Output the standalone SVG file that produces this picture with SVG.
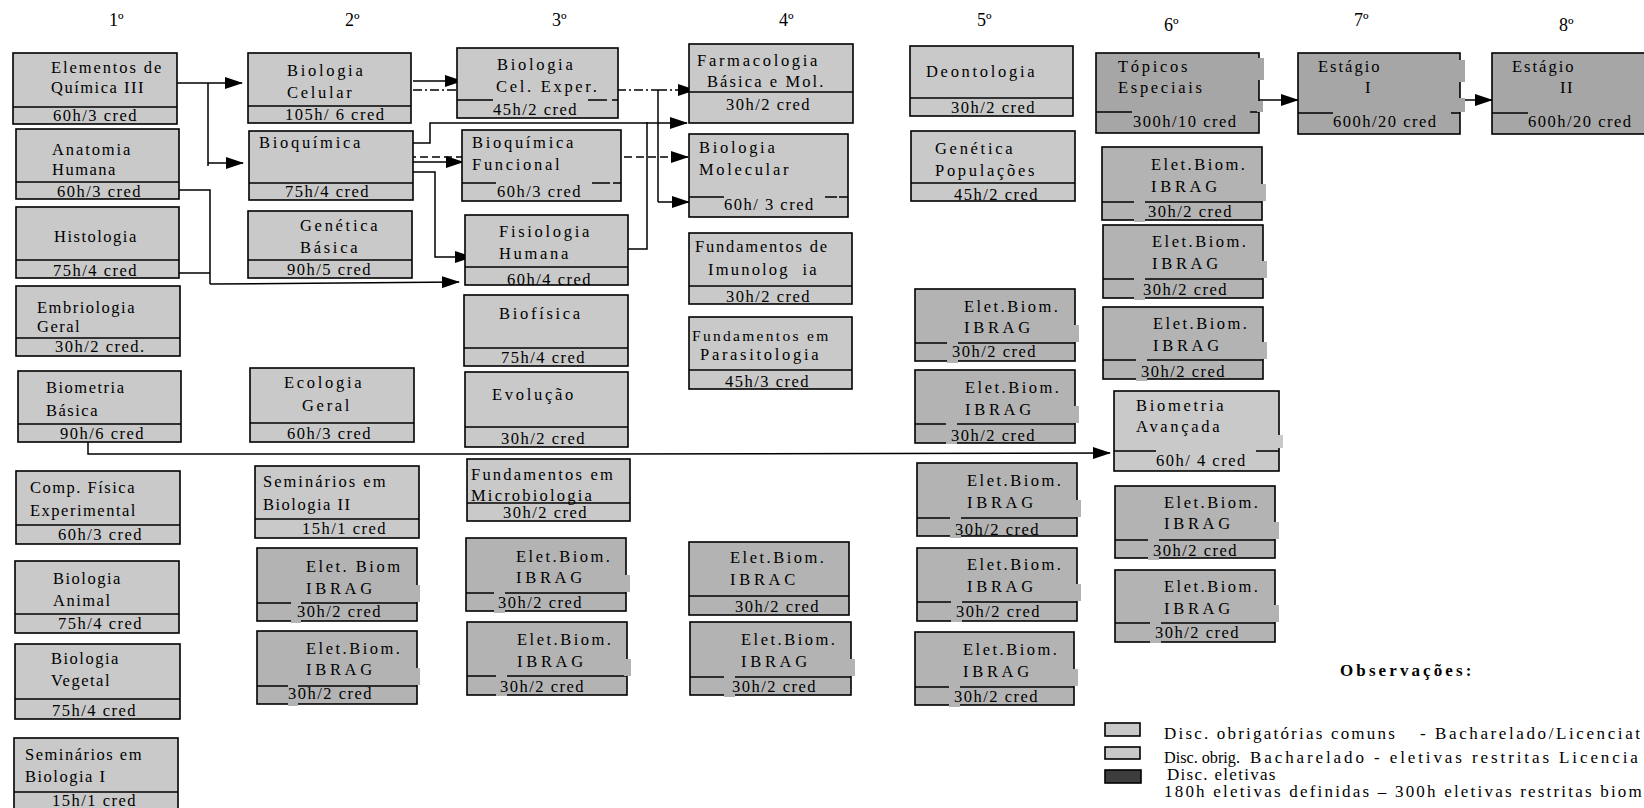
<svg xmlns="http://www.w3.org/2000/svg" width="1644" height="808" viewBox="0 0 1644 808">
<defs>
<marker id="ah" markerUnits="userSpaceOnUse" markerWidth="18" markerHeight="12" refX="17" refY="6" orient="auto"><path d="M0,0L18,6L0,12z" fill="#000"/></marker>
<style>
.L{fill:#c9c9c9;stroke:#000;stroke-width:1.6}
.E{fill:#b3b3b3;stroke:#000;stroke-width:1.6}
.D{fill:#a6a6a6;stroke:#000;stroke-width:1.6}
.dv{stroke:#000;stroke-width:1.6;fill:none}
.pe{fill:#b3b3b3}
.pd{fill:#a6a6a6}
.pl{fill:#c9c9c9}
.t{font-family:"Liberation Serif","Times New Roman",serif;font-size:16.5px;letter-spacing:1.5px;fill:#000}
.n{letter-spacing:2.7px}
.eb{letter-spacing:2.5px}
.i{letter-spacing:3.7px}
.h{font-family:"Liberation Serif","Times New Roman",serif;font-size:18px;fill:#000}
.lg{font-family:"Liberation Serif","Times New Roman",serif;font-size:17px;letter-spacing:1.6px;fill:#000}
.ob{font-family:"Liberation Serif","Times New Roman",serif;font-size:17px;font-weight:bold;letter-spacing:3.1px;fill:#000}
.c{stroke:#000;stroke-width:1.5;fill:none}
.ca{stroke:#000;stroke-width:1.5;fill:none;marker-end:url(#ah)}
</style>
</defs>
<rect width="1644" height="808" fill="#fff"/>

<g id="headers">
<text class="h" x="109" y="26">1º</text>
<text class="h" x="345" y="26">2º</text>
<text class="h" x="552" y="26">3º</text>
<text class="h" x="779" y="26">4º</text>
<text class="h" x="977" y="26">5º</text>
<text class="h" x="1164" y="31">6º</text>
<text class="h" x="1354" y="26">7º</text>
<text class="h" x="1559" y="31">8º</text>
</g>

<g id="connectors">
<path class="ca" d="M173,83H242"/>
<path class="c" d="M208,83V166"/>
<path class="ca" d="M208,163H243"/>
<path class="c" d="M177,190H210V284M177,273H210"/>
<path class="ca" d="M210,284L459,282"/>
<path class="ca" d="M413,81H462"/>
<path class="c" d="M413,90H658" stroke-dasharray="9 3 2 3"/>
<path class="ca" d="M658,90H695" stroke-dasharray="9 3 2 3"/>
<path class="c" d="M658,90V202"/>
<path class="ca" d="M658,202H689"/>
<path class="ca" d="M413,143H430V123H687"/>
<path class="c" d="M628,249H647V122"/>
<path class="ca" d="M408,157H688" stroke-dasharray="8 4"/>
<path class="ca" d="M413,162H463"/>
<path class="ca" d="M413,172H435V257H472"/>
<path class="ca" d="M88,442V454H600L1110,453"/>
<path class="ca" d="M1259,100H1298"/>
<path class="ca" d="M1460,100H1492"/>
</g>

<g id="n-elementos"><rect class="L" x="13" y="53" width="164" height="71"/><path class="dv" d="M13,107H177"/><text class="t" x="51" y="73" style="letter-spacing:1.9px">Elementos de</text><text class="t" x="51" y="93">Química III</text><text class="t" x="53" y="121">60h/3 cred</text></g>
<g id="n-anatomia"><rect class="L" x="16" y="129" width="163" height="70"/><path class="dv" d="M16,182H179"/><text class="t" x="52" y="155" style="letter-spacing:1.9px">Anatomia</text><text class="t" x="52" y="175">Humana</text><text class="t" x="57" y="197">60h/3 cred</text></g>
<g id="n-histologia"><rect class="L" x="16" y="207" width="163" height="71"/><path class="dv" d="M16,260H179"/><text class="t" x="54" y="242">Histologia</text><text class="t" x="53" y="276">75h/4 cred</text></g>
<g id="n-embriologia"><rect class="L" x="16" y="286" width="164" height="70"/><path class="dv" d="M16,338H180"/><text class="t" x="37" y="313">Embriologia</text><text class="t" x="37" y="332">Geral</text><text class="t" x="55" y="352">30h/2 cred.</text></g>
<g id="n-biometria-basica"><rect class="L" x="18" y="371" width="163" height="71"/><path class="dv" d="M18,424H181"/><text class="t" x="46" y="393">Biometria</text><text class="t" x="46" y="416">Básica</text><text class="t" x="60" y="439">90h/6 cred</text></g>
<g id="n-comp-fisica"><rect class="L" x="16" y="471" width="164" height="73"/><path class="dv" d="M16,525H180"/><text class="t" x="30" y="493">Comp. Física</text><text class="t" x="30" y="516">Experimental</text><text class="t" x="58" y="540">60h/3 cred</text></g>
<g id="n-bio-animal"><rect class="L" x="15" y="561" width="164" height="72"/><path class="dv" d="M15,614H179"/><text class="t" x="53" y="584">Biologia</text><text class="t" x="53" y="606">Animal</text><text class="t" x="58" y="629">75h/4 cred</text></g>
<g id="n-bio-vegetal"><rect class="L" x="15" y="644" width="165" height="75"/><path class="dv" d="M15,699H180"/><text class="t" x="51" y="664">Biologia</text><text class="t" x="51" y="686">Vegetal</text><text class="t" x="52" y="716">75h/4 cred</text></g>
<g id="n-seminarios-1"><rect class="L" x="14" y="738" width="164" height="76"/><path class="dv" d="M14,792H178"/><text class="t" x="25" y="760">Seminários em</text><text class="t" x="25" y="782">Biologia I</text><text class="t" x="52" y="806">15h/1 cred</text></g>

<g id="n-bio-celular"><rect class="L" x="248" y="53" width="163" height="70"/><path class="dv" d="M248,106H411"/><text class="t n" x="287" y="76">Biologia</text><text class="t n" x="287" y="98">Celular</text><text class="t" x="285" y="120">105h/ 6 cred</text></g>
<g id="n-bioquimica"><rect class="L" x="249" y="131" width="164" height="69"/><path class="dv" d="M249,183H413"/><text class="t n" x="259" y="148">Bioquímica</text><text class="t" x="285" y="197">75h/4 cred</text></g>
<g id="n-genetica-basica"><rect class="L" x="248" y="211" width="164" height="67"/><path class="dv" d="M248,260H412"/><text class="t n" x="300" y="231">Genética</text><text class="t n" x="300" y="253">Básica</text><text class="t" x="287" y="275">90h/5 cred</text></g>
<g id="n-ecologia"><rect class="L" x="250" y="368" width="164" height="74"/><path class="dv" d="M250,423H414"/><text class="t n" x="284" y="388">Ecologia</text><text class="t n" x="302" y="411">Geral</text><text class="t" x="287" y="439">60h/3 cred</text></g>
<g id="n-seminarios-2"><rect class="L" x="255" y="466" width="164" height="72"/><path class="dv" d="M255,519H419"/><text class="t" x="263" y="487" style="letter-spacing:2px">Seminários em</text><text class="t" x="263" y="510">Biologia II</text><text class="t" x="302" y="534">15h/1 cred</text></g>
<g id="n-elet2a"><rect class="E" x="257" y="548" width="160" height="73"/><path class="dv" d="M257,603H417"/><rect class="pe" x="414" y="585" width="6" height="17"/><rect class="pe" x="291" y="602" width="10" height="21"/><text class="t eb" x="306" y="572">Elet. Biom</text><text class="t i" x="306" y="594">IBRAG</text><text class="t" x="297" y="617">30h/2 cred</text></g>
<g id="n-elet2b"><rect class="E" x="257" y="631" width="160" height="73"/><path class="dv" d="M257,686H417"/><rect class="pe" x="414" y="668" width="6" height="17"/><rect class="pe" x="288" y="685" width="10" height="21"/><text class="t eb" x="306" y="654">Elet.Biom.</text><text class="t i" x="306" y="675">IBRAG</text><text class="t" x="288" y="699">30h/2 cred</text></g>

<g id="n-bio-cel-exper"><rect class="L" x="457" y="48" width="161" height="70"/><path class="dv" d="M457,100H493M588,100H607M612,100H618"/><text class="t n" x="497" y="70">Biologia</text><text class="t n" x="496" y="92">Cel. Exper.</text><text class="t" x="493" y="115">45h/2 cred</text></g>
<g id="n-bioq-funcional"><rect class="L" x="462" y="130" width="159" height="71"/><path class="dv" d="M462,183H496M592,183H610M613,183H621"/><text class="t n" x="472" y="148">Bioquímica</text><text class="t n" x="472" y="170">Funcional</text><text class="t" x="497" y="197">60h/3 cred</text></g>
<g id="n-fisiologia"><rect class="L" x="465" y="215" width="163" height="70"/><path class="dv" d="M465,267H628"/><text class="t n" x="499" y="237">Fisiologia</text><text class="t n" x="499" y="259">Humana</text><text class="t" x="507" y="285">60h/4 cred</text></g>
<g id="n-biofisica"><rect class="L" x="464" y="295" width="164" height="71"/><path class="dv" d="M464,348H628"/><text class="t n" x="499" y="319">Biofísica</text><text class="t" x="501" y="363">75h/4 cred</text></g>
<g id="n-evolucao"><rect class="L" x="465" y="372" width="163" height="75"/><path class="dv" d="M465,427H628"/><text class="t n" x="492" y="400">Evolução</text><text class="t" x="501" y="444">30h/2 cred</text></g>
<g id="n-microbiologia"><rect class="L" x="467" y="459" width="163" height="62"/><path class="dv" d="M467,503H630"/><text class="t" x="471" y="480" style="letter-spacing:2.2px">Fundamentos em</text><text class="t" x="471" y="501" style="letter-spacing:2.2px">Microbiologia</text><text class="t" x="503" y="518">30h/2 cred</text></g>
<g id="n-elet3a"><rect class="E" x="466" y="538" width="160" height="73"/><path class="dv" d="M466,593H626"/><rect class="pe" x="623" y="575" width="7" height="17"/><rect class="pe" x="494" y="592" width="11" height="21"/><text class="t eb" x="516" y="562">Elet.Biom.</text><text class="t i" x="516" y="583">IBRAG</text><text class="t" x="498" y="608">30h/2 cred</text></g>
<g id="n-elet3b"><rect class="E" x="467" y="622" width="160" height="73"/><path class="dv" d="M467,676H627"/><rect class="pe" x="624" y="659" width="7" height="17"/><rect class="pe" x="496" y="675" width="11" height="21"/><text class="t eb" x="517" y="645">Elet.Biom.</text><text class="t i" x="517" y="667">IBRAG</text><text class="t" x="500" y="692">30h/2 cred</text></g>

<g id="n-farmacologia"><rect class="L" x="689" y="44" width="164" height="79"/><path class="dv" d="M689,92H853"/><text class="t n" x="697" y="66">Farmacologia</text><text class="t" x="707" y="87" style="letter-spacing:2.1px">Básica e Mol.</text><text class="t" x="726" y="110">30h/2 cred</text></g>
<g id="n-bio-molecular"><rect class="L" x="689" y="134" width="159" height="83"/><path class="dv" d="M689,197H724M825,197H837M839,197H848"/><text class="t n" x="699" y="153">Biologia</text><text class="t n" x="699" y="175">Molecular</text><text class="t" x="724" y="210">60h/ 3 cred</text></g>
<g id="n-imunologia"><rect class="L" x="689" y="233" width="163" height="71"/><path class="dv" d="M689,286H852"/><text class="t" x="695" y="252" style="letter-spacing:1.8px">Fundamentos de</text><text class="t" x="708" y="275" style="letter-spacing:2.2px">Imunolog&#160; ia</text><text class="t" x="726" y="302">30h/2 cred</text></g>
<g id="n-parasitologia"><rect class="L" x="689" y="317" width="163" height="72"/><path class="dv" d="M689,370H852"/><text class="t" x="692" y="341" style="font-size:15.5px;letter-spacing:2.3px">Fundamentos em</text><text class="t n" x="700" y="360">Parasitologia</text><text class="t" x="725" y="387">45h/3 cred</text></g>
<g id="n-elet4a"><rect class="E" x="689" y="542" width="160" height="73"/><path class="dv" d="M689,596H849"/><text class="t eb" x="730" y="563">Elet.Biom.</text><text class="t i" x="730" y="585">IBRAC</text><text class="t" x="735" y="612">30h/2 cred</text></g>
<g id="n-elet4b"><rect class="E" x="690" y="622" width="161" height="73"/><path class="dv" d="M690,677H851"/><rect class="pe" x="848" y="659" width="7" height="17"/><rect class="pe" x="724" y="676" width="11" height="21"/><text class="t eb" x="741" y="645">Elet.Biom.</text><text class="t i" x="741" y="667">IBRAG</text><text class="t" x="732" y="692">30h/2 cred</text></g>

<g id="n-deontologia"><rect class="L" x="910" y="46" width="163" height="70"/><path class="dv" d="M910,98H1073"/><text class="t n" x="926" y="77">Deontologia</text><text class="t" x="951" y="113">30h/2 cred</text></g>
<g id="n-genetica-pop"><rect class="L" x="911" y="131" width="164" height="70"/><path class="dv" d="M911,183H1075"/><text class="t n" x="935" y="154">Genética</text><text class="t n" x="935" y="176">Populações</text><text class="t" x="954" y="200">45h/2 cred</text></g>
<g id="n-elet5a"><rect class="E" x="915" y="289" width="160" height="72"/><path class="dv" d="M915,343H1075"/><rect class="pe" x="1072" y="325" width="7" height="17"/><rect class="pe" x="947" y="342" width="11" height="21"/><text class="t eb" x="964" y="312">Elet.Biom.</text><text class="t i" x="964" y="333">IBRAG</text><text class="t" x="952" y="357">30h/2 cred</text></g>
<g id="n-elet5b"><rect class="E" x="915" y="370" width="160" height="73"/><path class="dv" d="M915,424H1075"/><rect class="pe" x="1072" y="406" width="7" height="17"/><rect class="pe" x="946" y="423" width="11" height="21"/><text class="t eb" x="965" y="393">Elet.Biom.</text><text class="t i" x="965" y="415">IBRAG</text><text class="t" x="951" y="441">30h/2 cred</text></g>
<g id="n-elet5c"><rect class="E" x="917" y="463" width="160" height="73"/><path class="dv" d="M917,518H1077"/><rect class="pe" x="1074" y="500" width="7" height="17"/><rect class="pe" x="950" y="517" width="11" height="21"/><text class="t eb" x="967" y="486">Elet.Biom.</text><text class="t i" x="967" y="508">IBRAG</text><text class="t" x="955" y="535">30h/2 cred</text></g>
<g id="n-elet5d"><rect class="E" x="917" y="548" width="160" height="73"/><path class="dv" d="M917,602H1077"/><rect class="pe" x="1074" y="584" width="7" height="17"/><rect class="pe" x="951" y="601" width="11" height="21"/><text class="t eb" x="967" y="570">Elet.Biom.</text><text class="t i" x="967" y="592">IBRAG</text><text class="t" x="956" y="617">30h/2 cred</text></g>
<g id="n-elet5e"><rect class="E" x="915" y="632" width="159" height="73"/><path class="dv" d="M915,687H1074"/><rect class="pe" x="1071" y="669" width="7" height="17"/><rect class="pe" x="949" y="686" width="11" height="21"/><text class="t eb" x="963" y="655">Elet.Biom.</text><text class="t i" x="963" y="677">IBRAG</text><text class="t" x="954" y="702">30h/2 cred</text></g>

<g id="n-topicos"><rect class="D" x="1096" y="53" width="163" height="80"/><path class="dv" d="M1096,112H1132M1250,112H1259"/><rect class="pd" x="1257" y="58" width="7" height="22"/><rect class="pd" x="1257" y="101" width="6" height="11"/><text class="t n" x="1118" y="72">Tópicos</text><text class="t n" x="1118" y="93">Especiais</text><text class="t" x="1133" y="127">300h/10 cred</text></g>
<g id="n-elet6a"><rect class="E" x="1102" y="147" width="160" height="73"/><path class="dv" d="M1102,202H1262"/><rect class="pe" x="1259" y="184" width="7" height="17"/><rect class="pe" x="1134" y="201" width="11" height="21"/><text class="t eb" x="1151" y="170">Elet.Biom.</text><text class="t i" x="1151" y="192">IBRAG</text><text class="t" x="1148" y="217">30h/2 cred</text></g>
<g id="n-elet6b"><rect class="E" x="1103" y="225" width="160" height="73"/><path class="dv" d="M1103,279H1263"/><rect class="pe" x="1260" y="261" width="7" height="17"/><rect class="pe" x="1134" y="278" width="11" height="22"/><text class="t eb" x="1152" y="247">Elet.Biom.</text><text class="t i" x="1152" y="269">IBRAG</text><text class="t" x="1143" y="295">30h/2 cred</text></g>
<g id="n-elet6c"><rect class="E" x="1103" y="307" width="160" height="72"/><path class="dv" d="M1103,360H1263"/><rect class="pe" x="1260" y="342" width="7" height="17"/><rect class="pe" x="1136" y="359" width="11" height="22"/><text class="t eb" x="1153" y="329">Elet.Biom.</text><text class="t i" x="1153" y="351">IBRAG</text><text class="t" x="1141" y="377">30h/2 cred</text></g>
<g id="n-biometria-avancada"><rect class="L" x="1114" y="391" width="165" height="80"/><path class="dv" d="M1114,451H1156M1256,451H1279"/><rect class="pl" x="1277" y="435" width="6" height="13"/><text class="t n" x="1136" y="411">Biometria</text><text class="t n" x="1136" y="432">Avançada</text><text class="t" x="1156" y="466">60h/ 4 cred</text></g>
<g id="n-elet6d"><rect class="E" x="1115" y="486" width="160" height="72"/><path class="dv" d="M1115,540H1275"/><rect class="pe" x="1272" y="522" width="7" height="17"/><rect class="pe" x="1148" y="539" width="11" height="21"/><text class="t eb" x="1164" y="508">Elet.Biom.</text><text class="t i" x="1164" y="529">IBRAG</text><text class="t" x="1153" y="556">30h/2 cred</text></g>
<g id="n-elet6e"><rect class="E" x="1115" y="570" width="160" height="72"/><path class="dv" d="M1115,623H1275"/><rect class="pe" x="1272" y="605" width="7" height="17"/><rect class="pe" x="1150" y="622" width="11" height="21"/><text class="t eb" x="1164" y="592">Elet.Biom.</text><text class="t i" x="1164" y="614">IBRAG</text><text class="t" x="1155" y="638">30h/2 cred</text></g>

<g id="n-estagio-1"><rect class="D" x="1298" y="53" width="162" height="81"/><path class="dv" d="M1298,113H1333M1451,113H1460"/><rect class="pd" x="1458" y="60" width="7" height="22"/><rect class="pd" x="1458" y="98" width="7" height="14"/><text class="t" x="1318" y="72" style="letter-spacing:2px">Estágio</text><text class="t" x="1365" y="93">I</text><text class="t" x="1333" y="127">600h/20 cred</text></g>
<g id="n-estagio-2"><rect class="D" x="1492" y="53" width="160" height="81"/><path class="dv" d="M1492,113H1528"/><text class="t" x="1512" y="72" style="letter-spacing:2px">Estágio</text><text class="t" x="1560" y="93">II</text><text class="t" x="1528" y="127">600h/20 cred</text></g>

<g id="legend">
<text class="ob" x="1340" y="676">Observações:</text>
<rect class="L" x="1105" y="723" width="35" height="13"/>
<rect class="L" x="1105" y="747" width="35" height="12"/>
<rect fill="#3d3d3d" stroke="#000" stroke-width="1.6" x="1105" y="770" width="36" height="13"/>
<text class="lg" x="1164" y="739" style="letter-spacing:2.2px">Disc. obrigatórias comuns</text>
<text class="lg" x="1420" y="739" style="letter-spacing:2.6px">- Bacharelado/Licenciat</text>
<text class="lg" x="1164" y="763" style="font-size:16.2px;letter-spacing:0px">Disc. obrig.</text>
<text class="lg" x="1250" y="763" style="letter-spacing:2.9px">Bacharelado - eletivas restritas Licencia</text>
<text class="lg" x="1167" y="780" style="letter-spacing:1.3px">Disc. eletivas</text>
<text class="lg" x="1164" y="797" style="letter-spacing:2.2px">180h eletivas definidas – 300h eletivas restritas biom</text>
</g>
</svg>
